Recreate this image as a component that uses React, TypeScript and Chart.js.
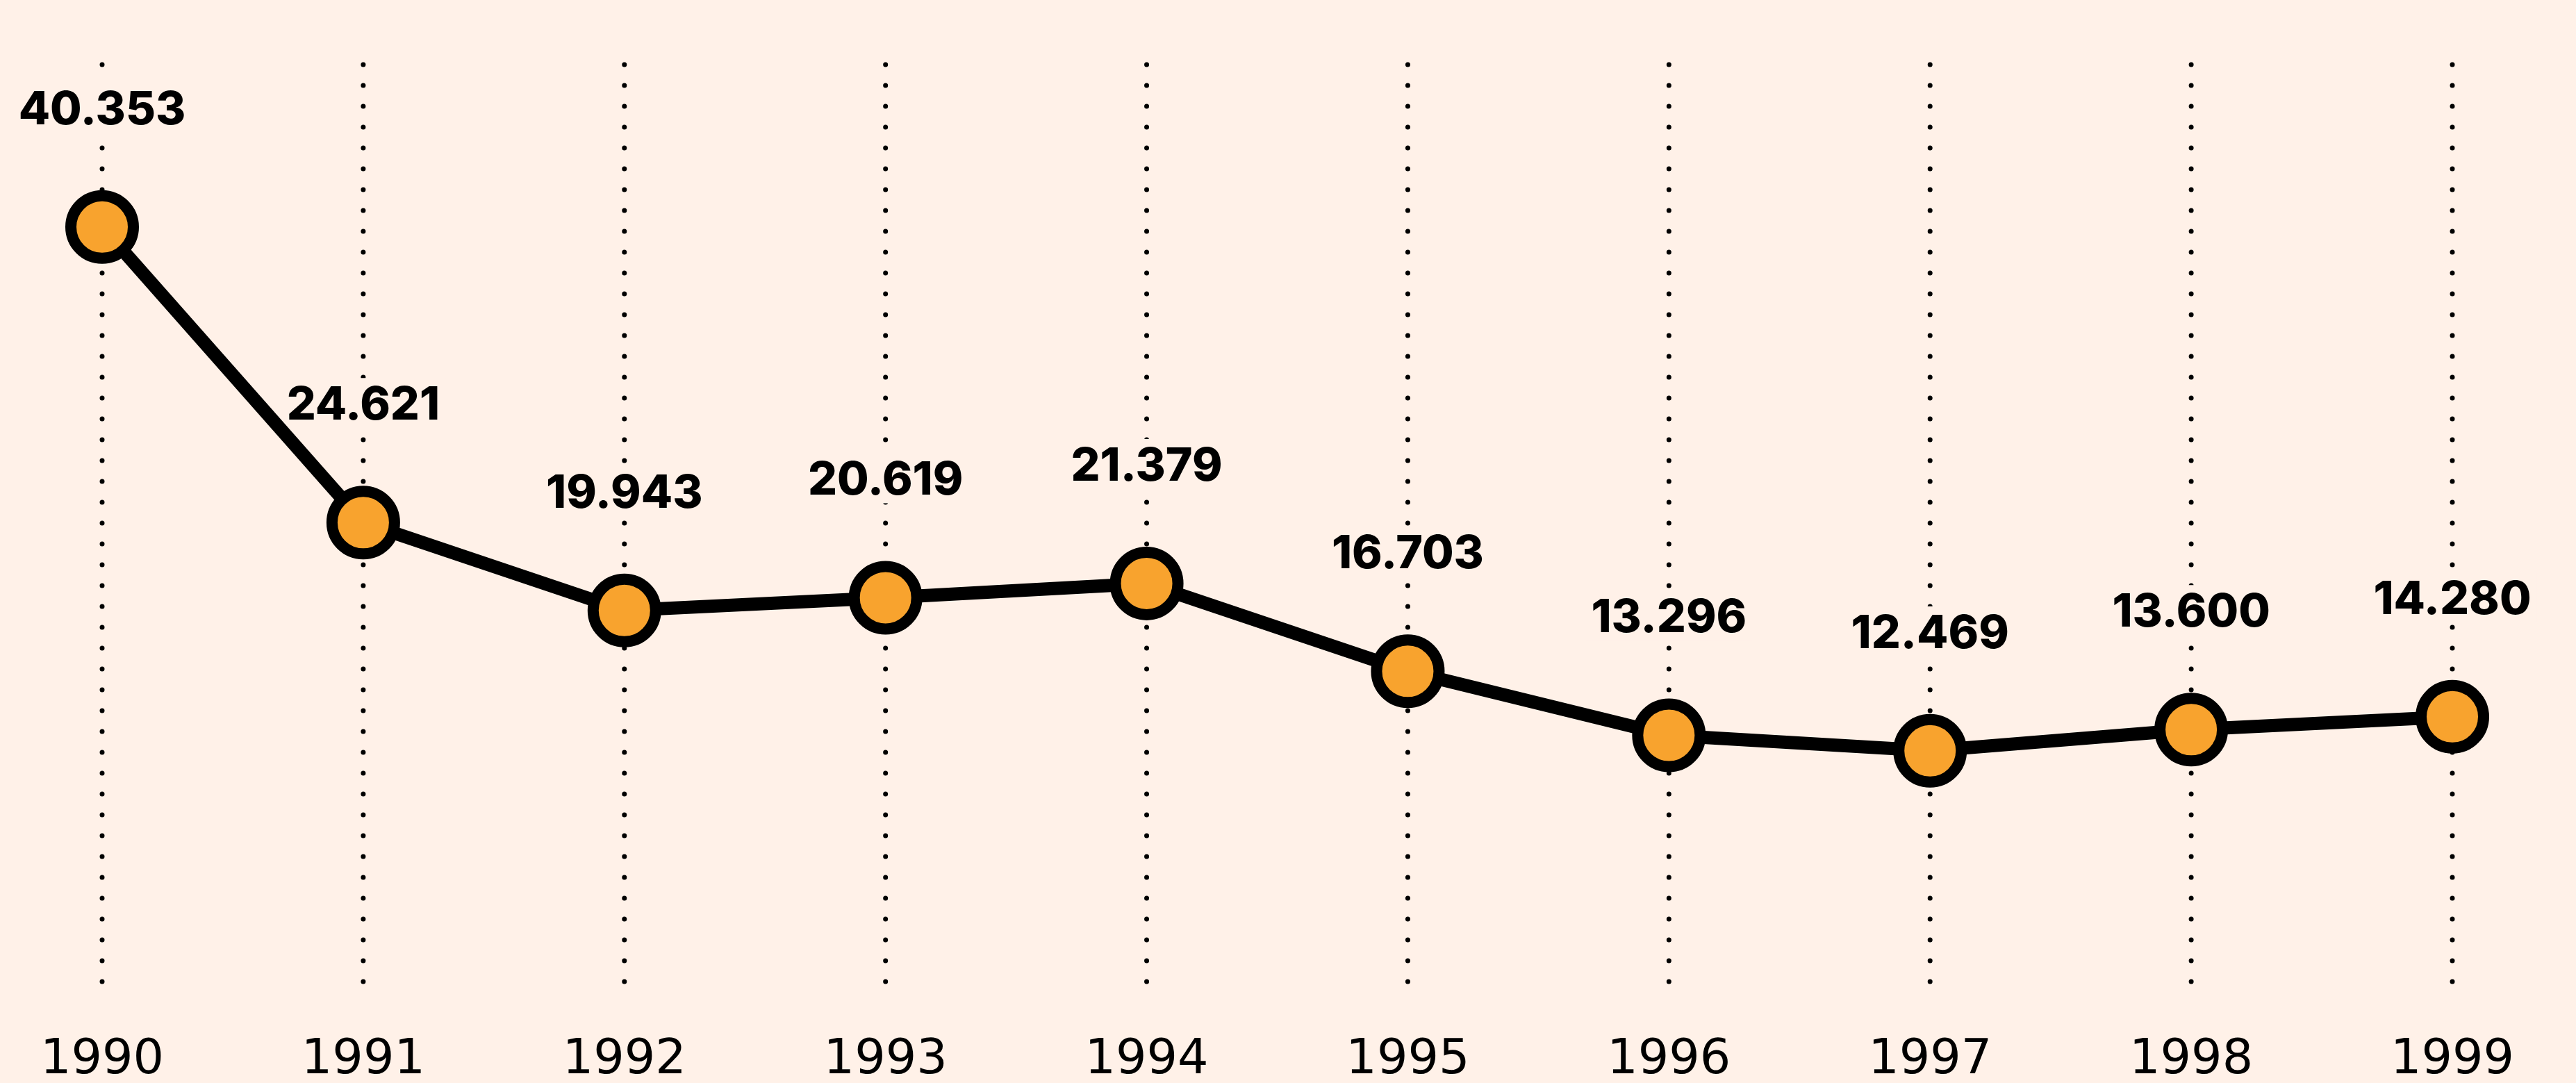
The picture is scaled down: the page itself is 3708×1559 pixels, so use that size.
import React, { useEffect, useRef } from "react";
import { Chart, registerables } from "chart.js";

Chart.register(...registerables);

// ---- data ----
const years: string[] = ["1990", "1991", "1992", "1993", "1994", "1995", "1996", "1997", "1998", "1999"];
const values: number[] = [40.353, 24.621, 19.943, 20.619, 21.379, 16.703, 13.296, 12.469, 13.6, 14.28];
const yMin = 0;
const yMax = 49;

// ---- style ----
const BG = "#FFF1E8";
const ORANGE = "#F8A32E";
const INK = "#000000";
const FONT = "Inter, 'DejaVu Sans', sans-serif";
const TICK_FONT = "'DejaVu Sans', sans-serif";

const W = 3708;
const H = 1636;

const decorPlugin = {
  id: "decor",
  beforeDatasetsDraw(chart: any) {
    const { ctx, chartArea, scales } = chart;
    const xs = scales.x;
    // dotted vertical grid lines
    ctx.save();
    ctx.strokeStyle = INK;
    ctx.lineWidth = 7;
    ctx.lineCap = "round";
    ctx.setLineDash([0, 30]);
    xs.ticks.forEach((_: any, i: number) => {
      const px = xs.getPixelForTick(i);
      ctx.beginPath();
      ctx.moveTo(px, chartArea.top);
      ctx.lineTo(px, chartArea.bottom);
      ctx.stroke();
    });
    ctx.restore();

    // value labels with background boxes
    const meta = chart.getDatasetMeta(0);
    ctx.save();
    ctx.font = `800 66px ${FONT}`;
    ctx.textAlign = "center";
    ctx.textBaseline = "alphabetic";
    meta.data.forEach((pt: any, i: number) => {
      const text = values[i].toFixed(3);
      const w = ctx.measureText(text).width;
      const base = pt.y - 148;
      ctx.fillStyle = BG;
      ctx.fillRect(pt.x - w / 2 - 8, base - 60, w + 16, 72);
      ctx.fillStyle = INK;
      ctx.fillText(text, pt.x, base);
    });
    ctx.restore();
  },
};

export default function App() {
  const ref = useRef<HTMLCanvasElement | null>(null);

  useEffect(() => {
    const canvas = ref.current;
    if (!canvas) return;
    const chart = new Chart(canvas, {
      type: "line",
      data: {
        labels: years,
        datasets: [
          {
            data: values,
            borderColor: INK,
            borderWidth: 19,
            pointRadius: 45,
            pointHoverRadius: 45,
            pointBorderWidth: 16,
            pointBackgroundColor: ORANGE,
            pointBorderColor: INK,
            tension: 0,
            clip: false as any,
          },
        ],
      },
      options: {
        animation: false,
        responsive: false,
        devicePixelRatio: 1,
        events: [],
        layout: { padding: { top: 93, left: 147, right: 178, bottom: 0 } },
        plugins: {
          legend: { display: false },
          tooltip: { enabled: false },
        },
        scales: {
          x: {
            type: "category",
            offset: false,
            grid: { display: false, drawTicks: false },
            border: { display: false },
            ticks: {
              color: INK,
              font: { family: TICK_FONT, size: 70, weight: "400" as any },
              padding: 67,
              maxRotation: 0,
              autoSkip: false,
            },
            afterFit: (scale: any) => {
              scale.paddingLeft = 0;
              scale.paddingRight = 0;
            },
          },
          y: {
            display: false,
            min: yMin,
            max: yMax,
          },
        },
      },
      plugins: [decorPlugin],
    });
    return () => chart.destroy();
  }, []);

  return (
    <div
      style={{
        position: "fixed",
        left: 0,
        top: 0,
        width: W,
        height: 1559,
        overflow: "hidden",
        background: BG,
      }}
    >
      <canvas ref={ref} width={W} height={H} style={{ display: "block", width: W, height: H }} />
    </div>
  );
}
